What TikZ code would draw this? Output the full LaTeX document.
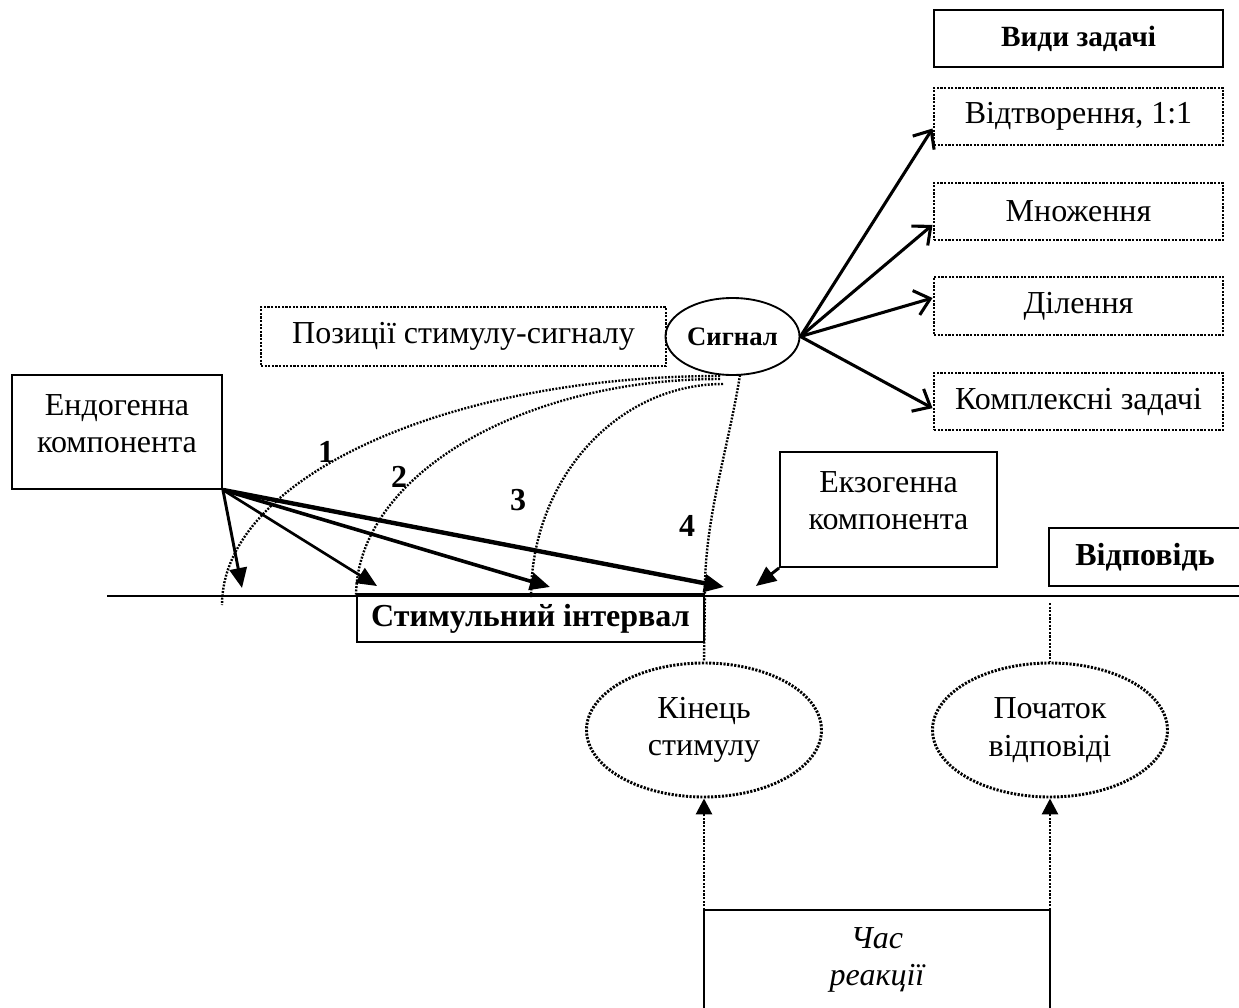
\documentclass[tikz,border=0pt]{standalone}
\usepackage{fontspec}
\setmainfont{Liberation Serif}
\usetikzlibrary{arrows.meta,shapes.geometric}
\begin{document}
\begin{tikzpicture}[x=0.75pt,y=-0.75pt,
  fnt/.style={font=\fontsize{24}{28}\selectfont},
  txt/.style={fnt, inner sep=0pt, align=center},
  box/.style={draw, line width=1.4pt, rectangle, inner sep=0pt, align=center, fnt},
  dotl/.style={line width=2.2pt, dash pattern=on 1.6pt off 1.1pt},
  dotthin/.style={line width=1.8pt, dash pattern=on 1.4pt off 1.1pt},
  dbox/.style={box, dotl},
  sigarr/.style={line width=2.3pt, -{Straight Barb[length=11pt,width=19pt]}},
  tri/.style={-{Triangle[length=15pt,width=13pt]}},
  uptri/.style={-{Triangle[length=12pt,width=12pt]}},
  lbl/.style={font=\fontsize{24}{28}\selectfont\bfseries, inner sep=0pt}
]
\useasboundingbox (0,0) rectangle (1239,1007);

% task boxes
\node[box, font=\fontsize{22}{26}\selectfont\bfseries, minimum width=216.75pt, minimum height=42.75pt] (vydy) at (1078.5,38.5) {Види задачі};
\node[dbox, minimum width=216.75pt, minimum height=42.75pt] (vidtv) at (1078.5,116.5) {Відтворення, 1:1};
\node[dbox, minimum width=216.75pt, minimum height=42.75pt] (mnozh) at (1078.5,211.5) {Множення};
\node[dbox, minimum width=216.75pt, minimum height=43.5pt] (dil) at (1078.5,306) {Ділення};
\node[dbox, minimum width=216.75pt, minimum height=42.75pt] (kompl) at (1078.5,401.5) {Комплексні задачі};

% signal
\node[dbox, minimum width=303.75pt, minimum height=44.25pt] (poz) at (463.5,336.5) {Позиції стимулу-сигналу};
\node[draw, ellipse, line width=1.4pt, inner sep=0pt, minimum width=100.5pt, minimum height=57.75pt, font=\fontsize{20}{24}\selectfont\bfseries] (sig) at (732.5,336.5) {Сигнал};

% components
\node[box, minimum width=157.5pt, minimum height=85.5pt] (endo) at (117,432) {};
\node[txt] (endot) at (117,424) {Ендогенна\\компонента};
\node[box, minimum width=162.75pt, minimum height=86.25pt] (exo) at (888.5,509.5) {};
\node[txt] (exot) at (888.5,501) {Екзогенна\\компонента};
\node[box, font=\fontsize{24}{28}\selectfont\bfseries, minimum width=144pt, minimum height=43.5pt] (vidp) at (1145,557) {Відповідь};
\node[box, font=\fontsize{24}{28}\selectfont\bfseries, minimum width=260.25pt, minimum height=34.5pt] (stim) at (530.5,619) {Стимульний інтервал};

% ellipses
\node[draw, ellipse, dotl, txt, minimum width=176.25pt, minimum height=100.5pt] (kin) at (704,730) {Кінець\\стимулу};
\node[draw, ellipse, dotl, txt, minimum width=176.25pt, minimum height=100.5pt] (poch) at (1050,730) {Початок\\відповіді};
\node[txt, font=\fontsize{24}{28}\selectfont\itshape] (chas) at (877,960) {Час\\реакції};

% numbers
\node[lbl] (n1) at (326,452) {1};
\node[lbl] (n2) at (399,477) {2};
\node[lbl] (n3) at (518,500) {3};
\node[lbl] (n4) at (687,526) {4};

% time line
\coordinate (L0) at (107,596);
\coordinate (L1) at (1245,596);
\draw[line width=1.3pt] (L0) -- (L1);
\draw[line width=2.6pt] (stim.north west) -- (stim.north east);

% endogenous arrows
\coordinate (e1) at (242,588);
\coordinate (e2) at (377,586);
\coordinate (e3) at (550,587);
\coordinate (e4) at (724,587);
\draw[tri, line width=2.2pt] (endo.south east) -- (e1);
\draw[tri, line width=2pt] (endo.south east) -- (e2);
\draw[tri, line width=2.7pt] (endo.south east) -- (e3);
\draw[tri, line width=3.3pt] (endo.south east) -- (e4);

% exogenous arrow
\coordinate (x1) at (756,586);
\draw[tri, line width=2.2pt] (exo.south west) -- (x1);

% signal arrows
\draw[sigarr] (sig.east) -- ([yshift=-9pt]vidtv.west);
\draw[sigarr] (sig.east) -- ([yshift=-10pt]mnozh.west);
\draw[sigarr] (sig.east) -- ([yshift=6pt]dil.west);
\draw[sigarr] (sig.east) -- ([yshift=-5pt]kompl.west);

% dotted positions
\coordinate (s1) at (720,376);
\coordinate (s2) at (720,379);
\coordinate (s3) at (723,384);
\coordinate (s4) at (740,375);
\coordinate (c1e) at (222,605);
\coordinate (c3e) at (531,597);
\draw[dotthin] (s1) .. controls (445,376) and (222,479) .. (c1e);
\draw[dotthin] (s2) .. controls (520,379) and (357,477) .. (stim.north west);
\draw[dotthin] (s3) .. controls (617,384) and (531,479) .. (c3e);
\draw[dotthin] (s4) .. controls (728,450) and (704,520) .. (stim.north east) -- (kin.north);

\coordinate (v2) at (1050,603);
\draw[dotl] (v2) -- (poch.north);

% reaction time
\coordinate (ta) at (704,910);
\coordinate (tb) at (1050,910);
\coordinate (ba) at (704,1012);
\coordinate (bb) at (1050,1012);
\draw[dotl, uptri] (ta) -- (kin.south);
\draw[dotl, uptri] (tb) -- (poch.south);
\draw[line width=1.3pt] (ba) -- (ta) -- (tb) -- (bb);
\end{tikzpicture}
\end{document}
